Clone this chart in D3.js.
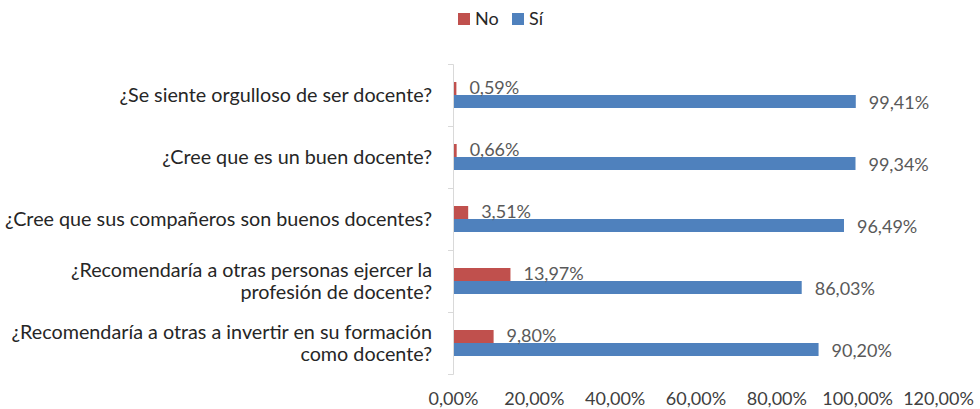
<!DOCTYPE html>
<html>
<head>
<meta charset="utf-8">
<script src="https://d3js.org/d3.v7.min.js"></script>
<style>
  body{margin:0;background:#fff;}
  text{font-family:Lato, "Open Sans", sans-serif;}
</style>
</head>
<body>
<svg id="chart" width="980" height="409"></svg>
<script>
var categories=[
  ["¿Se siente orgulloso de ser docente?"],
  ["¿Cree que es un buen docente?"],
  ["¿Cree que sus compañeros son buenos docentes?"],
  ["¿Recomendaría a otras personas ejercer la","profesión de docente?"],
  ["¿Recomendaría a otras a invertir en su formación","como docente?"]
];
var seriesNames=["No","Sí"];
var noValues=[0.59,0.66,3.51,13.97,9.80];
var siValues=[99.41,99.34,96.49,86.03,90.20];
var xTicks=[0,20,40,60,80,100,120];
var colors={"No":"#C0504D","Sí":"#4F81BD"};

var fmt=function(v){ return v.toFixed(2).replace(".",",")+"%"; };

var svg=d3.select("#chart"),
  margin={top:64,right:42,bottom:35,left:453},
  width=+svg.attr("width")-margin.left-margin.right,
  height=+svg.attr("height")-margin.top-margin.bottom;

var g=svg.append("g").attr("transform","translate("+margin.left+","+margin.top+")");

var rows=categories.map(function(c,i){
  return {key:i,label:c,values:[{name:"No",v:noValues[i]},{name:"Sí",v:siValues[i]}]};
});

var x=d3.scaleLinear().domain([0,120]).range([0,width]);
var y0=d3.scaleBand().domain(rows.map(function(d){return d.key;})).range([0,height]);
var y1=d3.scaleBand().domain(seriesNames).range([0,y0.bandwidth()]).paddingOuter(1.385);

// x axis labels only
var xaxis=g.append("g")
  .attr("transform","translate(0,"+height+")")
  .call(d3.axisBottom(x).tickValues(xTicks).tickSize(0).tickPadding(18).tickFormat(fmt));
xaxis.select(".domain").remove();
xaxis.selectAll("text").attr("fill","#404040").style("font-size","18px");

// y axis line + ticks
var yaxis=g.append("g")
  .call(d3.axisLeft(y0).tickValues([]).tickSizeOuter(5));
yaxis.select(".domain").attr("stroke","#D9D9D9");
g.append("g").selectAll("line")
  .data(d3.range(rows.length+1))
  .enter().append("line")
  .attr("x1",-5).attr("x2",0)
  .attr("y1",function(d){return d*y0.step()+0.5;})
  .attr("y2",function(d){return d*y0.step()+0.5;})
  .attr("stroke","#D9D9D9");

// category labels
var catSize=19.75;
var cat=g.append("g").selectAll("text")
  .data(rows)
  .enter().append("text")
  .attr("text-anchor","end")
  .attr("fill","#262626")
  .style("font-size",catSize+"px")
  .attr("x",-21)
  .attr("y",function(d){return y0(d.key)+y0.bandwidth()/2;});
cat.each(function(d){
  var t=d3.select(this), n=d.label.length;
  d.label.forEach(function(line,j){
    t.append("tspan")
      .attr("x",-21)
      .attr("dy",j==0?((-(n-1)*22/2)/catSize+0.35)+"em":"22px")
      .text(line);
  });
});

// bars
var grp=g.selectAll(".grp")
  .data(rows)
  .enter().append("g")
  .attr("transform",function(d){return "translate(0,"+y0(d.key)+")";});

grp.selectAll("rect")
  .data(function(d){return d.values;})
  .enter().append("rect")
  .attr("x",x(0)+1)
  .attr("y",function(d){return y1(d.name);})
  .attr("width",function(d){return x(d.v);})
  .attr("height",y1.bandwidth())
  .attr("fill",function(d){return colors[d.name];});

grp.selectAll(".lbl")
  .data(function(d){return d.values;})
  .enter().append("text")
  .attr("class","lbl")
  .attr("x",function(d){return x(d.v)+14;})
  .attr("y",function(d){return y1(d.name)+y1.bandwidth()/2+(d.name=="No"?-1:1);})
  .attr("dy","0.35em")
  .attr("fill","#595959")
  .style("font-size","18px")
  .text(function(d){return fmt(d.v);});

// legend
var leg=svg.append("g").attr("transform","translate(458,13)");
var li=leg.selectAll("g")
  .data(seriesNames)
  .enter().append("g")
  .attr("transform",function(d,i){return "translate("+(i*54)+",0)";});
li.append("rect").attr("width",12).attr("height",12)
  .attr("fill",function(d){return colors[d];});
li.append("text").attr("x",17).attr("y",6).attr("dy","0.35em")
  .attr("fill","#262626").style("font-size","18px")
  .text(function(d){return d;});
</script>
</body>
</html>
